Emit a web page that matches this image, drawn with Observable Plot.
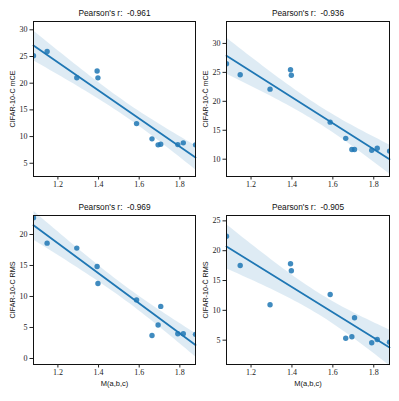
<!DOCTYPE html>
<html>
<head>
<meta charset="utf-8">
<script src="https://cdn.jsdelivr.net/npm/d3@7"></script>
<script src="https://cdn.jsdelivr.net/npm/@observablehq/plot@0.6"></script>
<style>
  html, body { margin: 0; padding: 0; background: #fff; }
  #root { position: relative; width: 399px; height: 401px; overflow: hidden; }
  #root > div { position: absolute; }
  svg { display: block; }
</style>
</head>
<body>
<div id="root"></div>
<script>
// M(a,b,c) values (shared x)
const mValues = [1.08, 1.147, 1.293, 1.393, 1.397, 1.587, 1.663, 1.693, 1.706, 1.79, 1.817, 1.877];
// series values
const cifarCmCE = [25.15, 25.95, 21.03, 22.29, 21.0, 12.43, 9.57, 8.45, 8.56, 8.5, 8.82, 8.45];
const cifarCbarmCE = [26.5, 24.6, 22.1, 25.46, 24.5, 16.4, 13.6, 11.67, 11.67, 11.55, 11.9, 11.4];
const cifarCRMS = [22.7, 18.6, 17.8, 14.84, 12.1, 9.45, 3.7, 5.4, 8.4, 4.0, 4.0, 3.9];
const cifarCbarRMS = [22.42, 17.51, 10.93, 17.8, 16.63, 12.65, 5.33, 5.56, 8.75, 4.56, 5.11, 4.66];
// titles and labels
const pearsonTitles = ["Pearson's r:  -0.961", "Pearson's r:  -0.936", "Pearson's r:  -0.969", "Pearson's r:  -0.905"];
const yLabels = ["CIFAR-10-C mCE", "CIFAR-10-C\u0304 mCE", "CIFAR-10-C RMS", "CIFAR-10-C\u0304 RMS"];
const xLabel = "M(a,b,c)";
// tick values
const xTicks = [1.2, 1.4, 1.6, 1.8];
const yTicks1 = [5, 10, 15, 20, 25, 30];
const yTicks2 = [10, 15, 20, 25, 30];
const yTicks3 = [0, 5, 10, 15, 20];
const yTicks4 = [5, 10, 15, 20, 25];
// axis domains
const xDomain = [1.08, 1.877];
const yDomains = [[2.52, 31.56], [7.01, 33.79], [-0.97, 23.06], [0.92, 25.9]];

const seriesList = [cifarCmCE, cifarCbarmCE, cifarCRMS, cifarCbarRMS];
const yTickList = [yTicks1, yTicks2, yTicks3, yTicks4];

const blue = "#1f77b4";
const serif = "'Liberation Serif', 'DejaVu Serif', serif";
const sans = "'Liberation Sans', Arial, sans-serif";

const layouts = [
  {left: 0, top: 0, width: 200, height: 200, mL: 33, mR: 5, mT: 21, mB: 24, xlab: false},
  {left: 200, top: 0, width: 199, height: 200, mL: 26, mR: 10, mT: 21, mB: 24, xlab: false},
  {left: 0, top: 200, width: 200, height: 201, mL: 33, mR: 5, mT: 15, mB: 37, xlab: true},
  {left: 200, top: 200, width: 199, height: 201, mL: 26, mR: 10, mT: 15, mB: 37, xlab: true}
];

const root = document.getElementById("root");
layouts.forEach((L, i) => {
  const data = mValues.map((m, j) => ({m, v: seriesList[i][j]}));
  const marks = [
    Plot.linearRegressionY(data, {x: "m", y: "v", ci: 0.95, stroke: blue, strokeWidth: 1.8, fill: blue, fillOpacity: 0.15}),
    Plot.dot(data, {x: "m", y: "v", r: 2.7, fill: blue, fillOpacity: 0.85, stroke: "none", clip: true}),
    Plot.frame({stroke: "#111", strokeWidth: 1}),
    Plot.axisX({ticks: xTicks, tickFormat: d3.format(".1f"), tickSize: 3.5, tickPadding: 1.5, fontFamily: serif, fontSize: 8, label: null, color: "#222"}),
    Plot.axisY({ticks: yTickList[i], tickSize: 3.5, tickPadding: 2.5, fontFamily: serif, fontSize: 8, label: null, color: "#222"}),
    Plot.text([pearsonTitles[i]], {frameAnchor: "top", dy: -8, lineAnchor: "middle", fontFamily: sans, fontSize: 8.3, fill: "#111"}),
    Plot.text([yLabels[i]], {frameAnchor: "left", dx: -21, rotate: -90, lineAnchor: "middle", textAnchor: "middle", fontFamily: sans, fontSize: 7.2, fill: "#111"})
  ];
  if (L.xlab) {
    marks.push(Plot.text([xLabel], {frameAnchor: "bottom", dy: 19, lineAnchor: "middle", fontFamily: sans, fontSize: 7.5, fill: "#111"}));
  }
  const chart = Plot.plot({
    width: L.width,
    height: L.height,
    marginLeft: L.mL,
    marginRight: L.mR,
    marginTop: L.mT,
    marginBottom: L.mB,
    x: {domain: xDomain},
    y: {domain: yDomains[i]},
    style: {background: "transparent", overflow: "visible"},
    marks
  });
  const wrap = document.createElement("div");
  wrap.style.left = L.left + "px";
  wrap.style.top = L.top + "px";
  wrap.appendChild(chart);
  root.appendChild(wrap);
});
</script>
</body>
</html>
